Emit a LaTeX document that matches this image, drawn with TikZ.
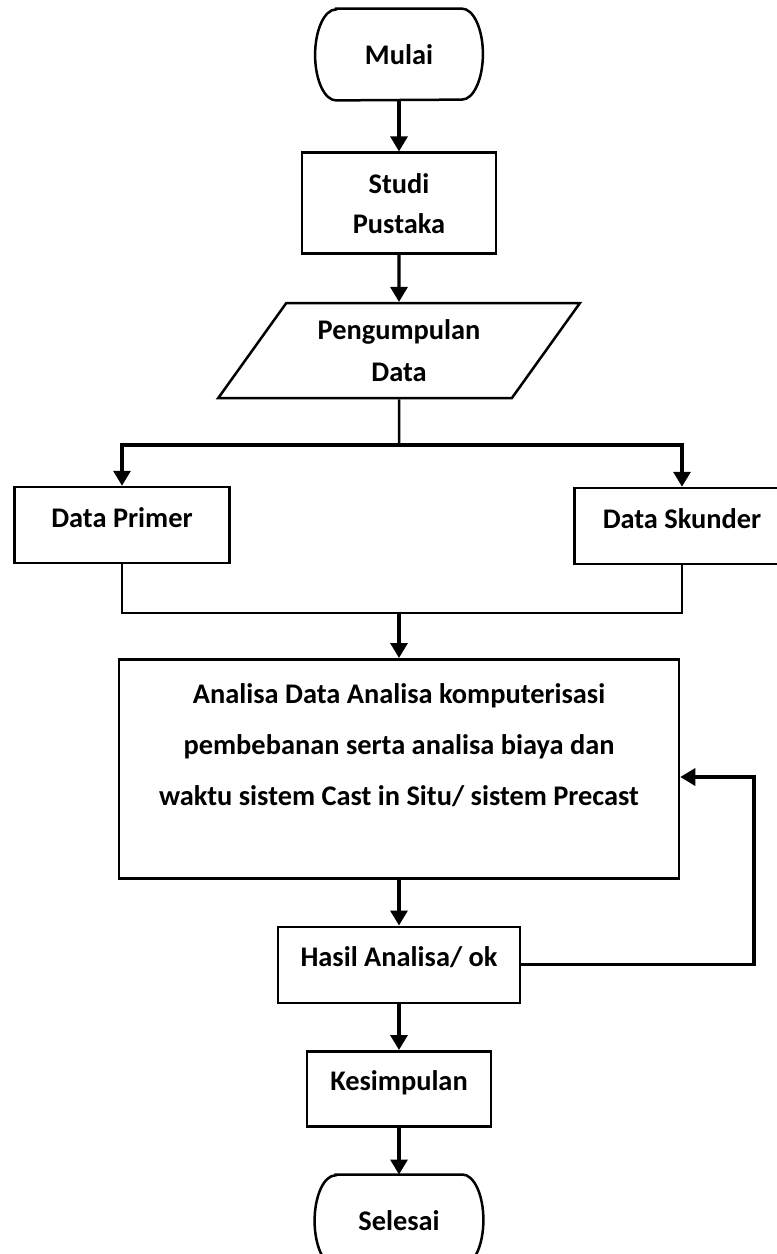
\documentclass[tikz,border=0pt]{standalone}
\usepackage{fontspec}
\setmainfont{Carlito}
\usepackage{tikz}
\usetikzlibrary{positioning,calc,arrows.meta,shapes.geometric}

\begin{document}
\begin{tikzpicture}[x=0.5pt, y=-0.5pt,
  every node/.style={font=\bfseries\fontsize{14.2}{20}\selectfont},
  box/.style={draw, line width=1.25pt, align=center, inner sep=0pt},
  sbox/.style={box, text height=10pt, text depth=7.8pt},
  term/.style={minimum width=83.5pt, minimum height=45.5pt, inner sep=0pt},
  io/.style={draw, line width=1.25pt, trapezium, trapezium left angle=51.7,
             trapezium right angle=128.3, trapezium stretches=true,
             minimum width=181pt, minimum height=47.5pt, inner sep=0pt, align=center},
  line/.style={line width=1.25pt},
  arr/.style={line width=1.6pt, -{Triangle[width=8.5pt,length=7.5pt]}}
]
  \useasboundingbox (0,0) rectangle (777,1254);

  % Start
  \node[term] (mulai) at (399,54.5) {Mulai};
  \node[box, minimum width=97pt, minimum height=50.5pt, below=25.5pt of mulai]
    (studi) {Studi\\Pustaka};
  \node[io, font=\bfseries\fontsize{14.2}{21}\selectfont, below=23.5pt of studi]
    (data) {Pengumpulan\\Data};

  % Data sources
  \coordinate (fork) at (399,445);
  \node[sbox, minimum width=107.5pt, minimum height=38pt] (primer) at (122,525) {Data Primer};
  \node[sbox, minimum width=107.5pt, minimum height=38pt] (skunder) at (682,526) {Data Skunder};
  \coordinate (merge) at (399,613);

  % Analysis
  \node[box, minimum width=280pt, minimum height=109.5pt, text height=61pt, text depth=24.5pt,
        font=\bfseries\fontsize{14.2}{25.5}\selectfont, below=22.5pt of merge]
    (analisa) {Analisa Data Analisa komputerisasi\\
               pembebanan serta analisa biaya dan\\
               waktu sistem Cast in Situ/ sistem Precast};
  \node[sbox, minimum width=121pt, minimum height=38pt, below=23pt of analisa]
    (hasil) {Hasil Analisa/ ok};
  \node[sbox, minimum width=92pt, minimum height=37.5pt, below=23pt of hasil]
    (kesimpulan) {Kesimpulan};
  \node[term, minimum width=84pt, below=23.5pt of kesimpulan] (selesai) {Selesai};
  \coordinate (loop) at (754,777);

  % terminal outlines
  \foreach \t in {mulai,selesai}{
    \draw[line] ([xshift=10.5pt]\t.north west) -- ([xshift=-10.5pt]\t.north east)
      arc[start angle=90, end angle=-90, x radius=10.5pt, y radius=22.75pt]
      -- ([xshift=10.5pt]\t.south west)
      arc[start angle=270, end angle=90, x radius=10.5pt, y radius=22.75pt] -- cycle;
  }

  \draw[arr] (mulai) -- (studi);
  \draw[arr] (studi) -- (data);
  \draw[line] (data) -- (fork);
  \draw[arr] (fork) -| (primer);
  \draw[arr] (fork) -| (skunder);
  \draw[line] (primer) |- (merge) -| (skunder);
  \draw[arr] (merge) -- (analisa);
  \draw[arr] (analisa) -- (hasil);
  \draw[arr] (hasil) -- (kesimpulan);
  \draw[arr] (kesimpulan) -- (selesai);
  \draw[arr] (hasil) -| (loop) -- (loop -| analisa.east);
\end{tikzpicture}
\end{document}
